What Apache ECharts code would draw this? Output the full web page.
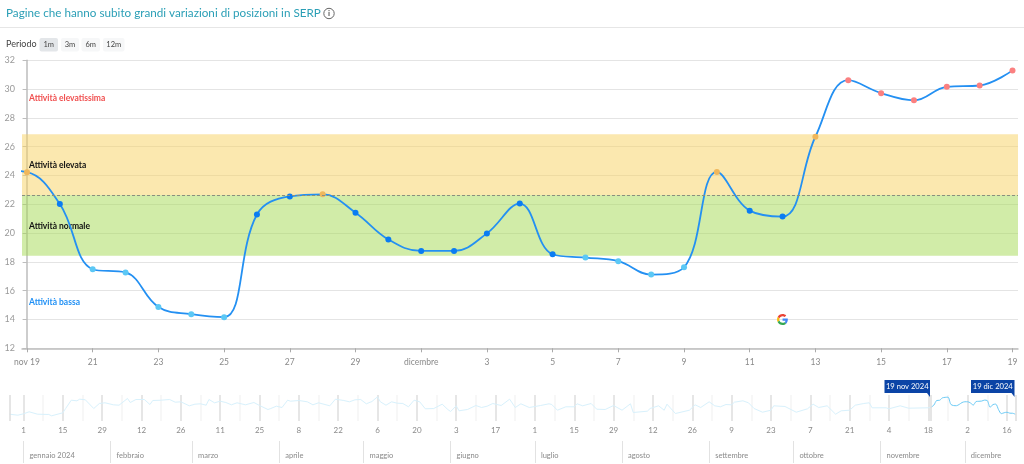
<!DOCTYPE html>
<html>
<head>
<meta charset="utf-8">
<title>Pagine che hanno subito grandi variazioni</title>
<script src="https://cdn.jsdelivr.net/npm/echarts@6/dist/echarts.min.js"></script>
<style>
html, body { margin: 0; padding: 0; background: #fff; }
#main { width: 1024px; height: 464px; }
</style>
</head>
<body>
<div id="main"></div>
<script>
// main chart: one value per day, 19 nov -> 19 dic
let values = [24.23, 22.02, 17.49, 17.27, 14.87, 14.37, 14.16, 21.29, 22.55, 22.69, 21.42, 19.56, 18.76, 18.76, 19.98, 22.05,
    18.53, 18.30, 18.05, 17.12, 17.63, 24.25, 21.56, 21.15, 26.69, 30.62, 29.72, 29.22, 30.16, 30.25, 31.30];
let valueBeforeFirst = 24.4;
let dayLabels = ['nov 19', '21', '23', '25', '27', '29', 'dicembre', '3', '5', '7', '9', '11', '13', '15', '17', '19'];
let bandLow = 18.43;
let bandMid = 22.65;
let bandHigh = 26.86;

// overview line before the selected month: days from 1 jan 2024 and position
let historyDays = [-5, -2, 0, 2, 5, 9, 10, 14, 15, 17, 19, 20, 22, 25, 27, 29, 32, 34, 37, 38, 40, 43, 45, 46, 49, 52, 54, 56, 59, 61, 63, 65, 66, 68, 70, 72, 74,
    76, 79, 82, 84, 87, 88, 90, 92, 94, 95, 98, 101, 103, 105, 109, 111, 114, 116, 118, 120, 122, 124, 126, 127, 129, 131, 133, 135, 137, 139, 141, 143, 146, 149, 151, 152, 154, 155, 158,
    161, 163, 165, 167, 170, 173, 175, 177, 180, 184, 187, 188, 190, 193, 196, 197, 199, 202, 204, 207, 210, 213, 216, 217, 222, 223, 226, 228, 229, 232, 237,
    239, 241, 244, 246, 248, 250, 252, 253, 256, 258, 260, 263, 266, 267, 271, 275, 279, 281, 283, 286, 289, 291, 294, 296, 299, 301, 302, 307, 308, 312, 315, 322];
let historyValues = [31.2, 32.2, 30.8, 28.8, 31.2, 31.5, 32.8, 29.8, 25.5, 17.2, 17.8, 16.2, 16.8, 25.5, 20.5, 19.8, 21.8, 22.2, 15.5, 19.5, 16.5, 16.5, 21.5, 17.5, 17.2, 16.5, 19.2, 18.8, 22.8, 21.2, 20.8, 22.2, 16.5, 19.8, 18.2, 19.5, 21.8,
    19.8, 21.8, 19.5, 22.5, 26.5, 25.5, 23.2, 24.5, 17.2, 18.2, 17.5, 18.8, 21.8, 19.8, 22.8, 16.2, 17.5, 18.8, 16.8, 16.5, 20.8, 18.5, 13.8, 18.8, 22.2, 18.8, 20.2, 20.5, 23.8, 17.2, 18.8, 25.8, 25.5, 21.2, 26.5, 28.5, 22.8, 27.8, 26.5,
    22.5, 24.5, 23.2, 20.5, 22.5, 16.2, 24.5, 20.8, 24.5, 22.5, 20.8, 21.5, 27.2, 23.8, 23.8, 20.8, 22.8, 20.5, 26.2, 26.5, 22.5, 27.2, 20.8, 29.5, 28.2, 25.5, 22.8, 27.2, 21.2, 30.5, 27.2,
    21.8, 24.5, 18.8, 22.8, 23.8, 21.5, 21.8, 19.2, 17.8, 19.8, 25.5, 29.2, 27.2, 22.8, 23.5, 29.2, 25.8, 21.2, 24.5, 22.8, 31.2, 27.8, 27.2, 22.2, 20.5, 19.8, 24.8, 24.8, 25.8, 22.8, 25.2, 24.8];
let selectedStart = 323;
let overviewLabels = ['1', '15', '29', '12', '26', '11', '25', '8', '22', '6', '20', '3', '17', '1', '15', '29', '12', '26', '9', '23', '7', '21', '4', '18', '2', '16'];
let monthDays = [0, 31, 60, 91, 121, 152, 182, 213, 244, 274, 305, 335];
let monthLabels = ['gennaio 2024', 'febbraio', 'marzo', 'aprile', 'maggio', 'giugno', 'luglio', 'agosto', 'settembre', 'ottobre', 'novembre', 'dicembre'];
let periods = ['1m', '3m', '6m', '12m'];

let fontName = 'Lato, sans-serif';
let googleIcon = 'image://data:image/svg+xml;utf8,' + encodeURIComponent(
    '<svg xmlns="http://www.w3.org/2000/svg" viewBox="0 0 48 48">' +
    '<path fill="#EA4335" d="M24 9.5c3.5 0 6.700 1.200 9.200 3.600l6.900-6.900C35.900 2.400 30.500 0 24 0 14.600 0 6.500 5.400 2.600 13.200l8 6.200C12.400 13.700 17.700 9.500 24 9.500z"/>' +
    '<path fill="#4285F4" d="M47 24.500c0-1.600-.1-3.100-.4-4.500H24v9h12.900c-.6 3-2.200 5.500-4.700 7.200l7.700 6C44.400 37.900 47 31.800 47 24.500z"/>' +
    '<path fill="#FBBC05" d="M10.500 28.600c-.5-1.500-.8-3-.8-4.600s.3-3.100.8-4.600l-8-6.200C.9 16.500 0 20.100 0 24s.9 7.500 2.600 10.800l7.900-6.200z"/>' +
    '<path fill="#34A853" d="M24 48c6.500 0 11.900-2.100 15.900-5.800l-7.700-6c-2.200 1.400-4.900 2.300-8.200 2.300-6.300 0-11.600-4.200-13.500-9.900l-8 6.200C6.500 42.600 14.600 48 24 48z"/>' +
    '</svg>');

function pointColor(v) {
    if (v < bandLow) return '#5cc8f5';
    if (v < bandMid) return '#0a7cf2';
    if (v < bandHigh) return '#efb75c';
    return '#fb8080';
}

let mainData = [[-1, valueBeforeFirst]];
for (let i = 0; i < values.length; i++) {
    mainData.push({ value: [i, values[i]], itemStyle: { color: pointColor(values[i]) } });
}
let historyData = [];
for (let i = 0; i < historyDays.length; i++) {
    historyData.push([historyDays[i], historyValues[i]]);
}
historyData.push([selectedStart, values[0]]);
let selectedData = [];
for (let i = 0; i < values.length; i++) {
    selectedData.push([selectedStart + i, values[i]]);
}
let dayTicks = [];
for (let i = 0; i < dayLabels.length; i++) {
    dayTicks.push(i * 2);
}

function bandLabel(text, y, color) {
    return { type: 'text', x: 29, y: y, z: 2, style: { text: text, fill: color, font: 'bold 8.500px ' + fontName, verticalAlign: 'middle' } };
}

function flag(text, x1, x2) {
    return [
        { type: 'rect', shape: { x: x1, y: 380, width: x2 - x1, height: 13 }, style: { fill: '#0b44a6' }, z: 5 },
        { type: 'polygon', shape: { points: [[x2 - 3, 393], [x2, 393], [x2, 397]] }, style: { fill: '#0b44a6' }, z: 5 },
        { type: 'text', x: (x1 + x2) / 2, y: 386.500, z: 6, style: { text: text, fill: '#fff', font: '7.600px ' + fontName, align: 'center', verticalAlign: 'middle' } }
    ];
}

let graphics = [
    { type: 'text', x: 6, y: 13.500, style: { text: 'Pagine che hanno subito grandi variazioni di posizioni in SERP', fill: '#2b9fb6', font: '11.700px ' + fontName, verticalAlign: 'middle' } },
    { type: 'circle', shape: { cx: 329, cy: 13.500, r: 5.200 }, style: { fill: 'none', stroke: '#666', lineWidth: 1 } },
    { type: 'text', x: 329, y: 13.500, style: { text: 'i', fill: '#555', font: 'bold 8px ' + fontName, align: 'center', verticalAlign: 'middle' } },
    { type: 'line', shape: { x1: 0, y1: 27.500, x2: 1024, y2: 27.500 }, style: { stroke: '#e6e6e6', lineWidth: 1 } },
    { type: 'text', x: 6, y: 44.500, style: { text: 'Periodo', fill: '#444', font: '9px ' + fontName, verticalAlign: 'middle' } },
    bandLabel('Attività elevatissima', 98, '#f04f4f'),
    bandLabel('Attività elevata', 165.500, '#111'),
    bandLabel('Attività normale', 226, '#111'),
    bandLabel('Attività bassa', 302.500, '#1e8ff5')
];
let buttonX = [39.500, 61, 81.500, 103];
let buttonW = [18.500, 18, 18.500, 21.500];
for (let i = 0; i < periods.length; i++) {
    graphics.push({ type: 'rect', shape: { x: buttonX[i], y: 38, width: buttonW[i], height: 13.500, r: 2 }, style: { fill: i == 0 ? '#e3e6e9' : '#f6f7f8' } });
    graphics.push({ type: 'text', x: buttonX[i] + buttonW[i] / 2, y: 45, style: { text: periods[i], fill: '#444', font: '7.500px ' + fontName, align: 'center', verticalAlign: 'middle' } });
}
graphics = graphics.concat(flag('19 nov 2024', 884.500, 930), flag('19 dic 2024', 971, 1014.500));

let myChart = echarts.init(document.getElementById('main'), null, { renderer: 'canvas' });

let option = {
    animation: false,
    backgroundColor: '#fff',
    textStyle: { fontFamily: fontName },
    grid: [
        { left: 22, right: 6, top: 60.300, height: 288 },
        { left: 3.830, width: 1014.400, top: 395, height: 26 },
        { left: 3.830, width: 1014.400, top: 441, height: 22 }
    ],
    xAxis: [
        {
            gridIndex: 0, type: 'value', min: -0.152, max: 30.167,
            splitLine: { show: false },
            axisLine: { onZero: false, lineStyle: { color: '#bdbdbd', width: 1.500 } },
            axisTick: { length: 4, lineStyle: { color: '#aaa' }, customValues: dayTicks },
            axisLabel: {
                color: '#8a8a8a', fontSize: 8.500, margin: 9, customValues: dayTicks,
                formatter: function (val) { return dayLabels[val / 2]; }
            }
        },
        {
            gridIndex: 1, type: 'value', min: -7, max: 354, interval: 7,
            axisLine: { show: false },
            axisTick: { show: false },
            splitLine: { show: true, showMinLine: false, showMaxLine: false, lineStyle: { color: ['#dedede', '#f4f4f4'], width: 1.500 } },
            axisLabel: {
                color: '#8a8a8a', fontSize: 8, margin: 5, showMinLabel: false, showMaxLabel: false,
                formatter: function (val) { return val % 14 == 0 && val >= 0 ? overviewLabels[val / 14] : ''; }
            }
        },
        {
            gridIndex: 2, type: 'value', min: -7, max: 354,
            splitLine: { show: false },
            axisLine: { show: false },
            axisTick: { inside: true, length: 22, lineStyle: { color: '#e2e2e2' }, customValues: monthDays },
            axisLabel: {
                color: '#8a8a8a', fontSize: 7.500, inside: true, margin: 3, align: 'left', customValues: monthDays,
                padding: [0, 0, 0, 6],
                formatter: function (val) { return monthLabels[monthDays.indexOf(val)]; }
            }
        }
    ],
    yAxis: [
        {
            gridIndex: 0, type: 'value', min: 12, max: 32, interval: 2,
            axisLine: { show: true, lineStyle: { color: '#bdbdbd', width: 1.500 } },
            axisTick: { show: true, length: 4, lineStyle: { color: '#bdbdbd' } },
            axisLabel: { color: '#9a9a9a', fontSize: 9, margin: 7 },
            splitLine: { lineStyle: { color: '#e4e4e4', width: 1 } }
        },
        { gridIndex: 1, type: 'value', min: 12, max: 38, inverse: true, show: false },
        { gridIndex: 2, type: 'value', min: 0, max: 1, show: false }
    ],
    series: [
        {
            type: 'line',
            xAxisIndex: 0, yAxisIndex: 0,
            data: mainData,
            smooth: 0.4,
            symbol: 'circle',
            symbolSize: 6,
            showAllSymbol: true,
            clip: true,
            z: 3,
            lineStyle: { color: '#2490f2', width: 1.800 },
            markArea: {
                silent: true,
                data: [
                    [{ yAxis: bandMid, itemStyle: { color: 'rgba(247,210,96,0.5)' } }, { yAxis: bandHigh }],
                    [{ yAxis: bandLow, itemStyle: { color: 'rgba(163,217,81,0.5)' } }, { yAxis: bandMid }]
                ]
            },
            markLine: {
                silent: true,
                symbol: 'none',
                label: { show: false },
                lineStyle: { color: '#8a8f80', type: [3, 2], width: 1 },
                data: [{ yAxis: bandMid }]
            },
            markPoint: {
                silent: true,
                symbol: googleIcon,
                symbolSize: 11,
                label: { show: false },
                data: [{ coord: [23, 14] }]
            }
        },
        {
            type: 'line',
            xAxisIndex: 1, yAxisIndex: 1,
            data: historyData,
            symbol: 'none',
            lineStyle: { color: '#d8f1fc', width: 1 },
            markLine: {
                silent: true,
                symbol: 'none',
                label: { show: false },
                lineStyle: { color: '#dcdcdc', type: 'solid', width: 1.500 },
                data: [{ xAxis: -5 }, { xAxis: selectedStart }, { xAxis: selectedStart + 30 }]
            }
        },
        {
            type: 'line',
            xAxisIndex: 1, yAxisIndex: 1,
            data: selectedData,
            smooth: 0.3,
            symbol: 'none',
            lineStyle: { color: '#6ccbf6', width: 1 }
        }
    ],
    graphic: graphics
};
myChart.setOption(option);
</script>
</body>
</html>
